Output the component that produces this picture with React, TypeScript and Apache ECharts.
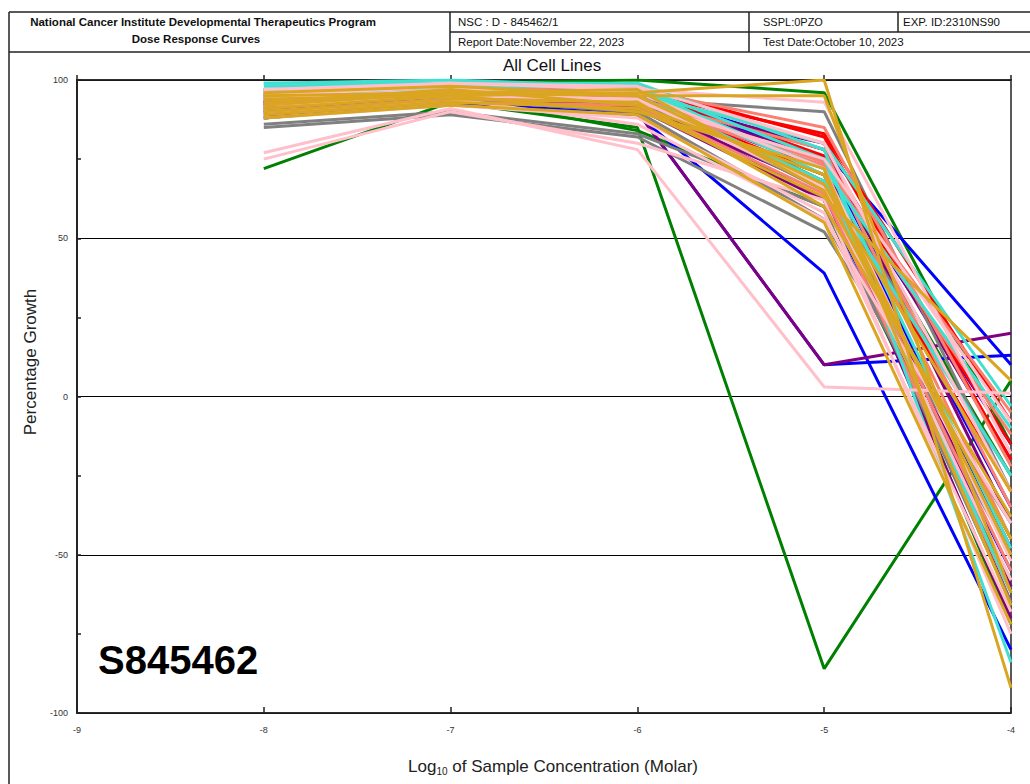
import React, { useEffect, useRef } from "react";
import * as echarts from "echarts";

const FONT = "'Liberation Sans', Arial, sans-serif";

const doses = [-8, -7, -6, -5, -4];
const xTicks = [-9, -8, -7, -6, -5, -4];
const yTicks = [-100, -50, 0, 50, 100];

const GREEN = "#008000";
const BLUE = "#0000FF";
const PURPLE = "#800080";
const GRAY = "#808080";
const RED = "#FF0000";
const SALMON = "#FA8072";
const PINK = "#FFC0CB";
const TURQ = "#40E0D0";
const GOLD = "#DAA520";

const greenLines = [
  [72, 93, 85, -86, 5],
  [96, 99, 100, 96, -15],
  [93, 97, 96, 68, -45],
  [90, 95, 84, 60, -60],
  [95, 98, 97, 75, -25],
  [91, 94, 92, 70, -72],
];
const blueLines = [
  [88, 93, 89, 39, -80],
  [92, 94, 90, 10, 13],
  [97, 98, 98, 74, -15],
  [89, 92, 93, 75, -35],
  [94, 96, 95, 62, -55],
  [90, 95, 96, 78, 10],
  [93, 97, 96, 72, -48],
];
const purpleLines = [
  [91, 96, 90, 10, 20],
  [94, 97, 95, 75, -60],
  [92, 95, 93, 80, -40],
  [90, 94, 92, 66, -70],
  [95, 97, 91, 62, -50],
  [93, 96, 94, 72, -65],
  [88, 93, 95, 78, -20],
];
const grayLines = [
  [85, 89, 82, 52, -40],
  [88, 93, 94, 90, -30],
  [86, 90, 83, 60, -58],
  [92, 95, 93, 70, -25],
  [89, 94, 90, 56, -50],
  [91, 96, 95, 65, -65],
];
const redLines = [
  [93, 97, 96, 83, -8],
  [95, 98, 97, 76, -15],
  [92, 96, 94, 70, -30],
  [96, 98, 98, 82, -20],
];
const salmonLines = [
  [97, 98, 97, 85, -22],
  [94, 96, 94, 78, -45],
  [91, 95, 93, 73, -12],
  [96, 97, 95, 68, -55],
  [93, 96, 96, 80, -35],
  [90, 93, 92, 64, -62],
  [95, 97, 94, 74, -5],
];
const turquoiseLines = [
  [99, 99, 99, 78, -84],
  [98, 99, 97, 72, -10],
  [97, 98, 98, 70, -62],
  [96, 98, 95, 68, -25],
  [99, 100, 98, 75, -48],
  [95, 97, 96, 80, -3],
];
const pinkLines = [
  [77, 91, 78, 3, 1],
  [75, 90, 80, 62, -75],
  [96, 99, 97, 93, -18],
  [88, 92, 88, 58, -68],
  [94, 97, 96, 72, -52],
  [97, 99, 98, 80, -30],
  [92, 95, 94, 66, -58],
  [95, 98, 93, 75, -8],
  [90, 94, 86, 56, -40],
];
const goldLines = [
  [94, 95, 96, 100, -92],
  [92, 96, 95, 95, -62],
  [93, 97, 92, 70, -50],
  [95, 96, 97, 65, -45],
  [90, 94, 93, 60, -38],
  [91, 95, 90, 72, -66],
  [88, 92, 89, 55, -72],
  [96, 98, 95, 67, -30],
  [89, 93, 91, 63, 5],
];

const groups: [string, number[][]][] = [
  [GREEN, greenLines],
  [BLUE, blueLines],
  [PURPLE, purpleLines],
  [GRAY, grayLines],
  [RED, redLines],
  [SALMON, salmonLines],
  [TURQ, turquoiseLines],
  [PINK, pinkLines],
  [GOLD, goldLines],
];

const headerLeft1 = "National Cancer Institute Developmental Therapeutics Program";
const headerLeft2 = "Dose Response Curves";
const headerNsc = "NSC : D - 845462/1";
const headerReport = "Report Date:November 22, 2023";
const headerSspl = "SSPL:0PZO";
const headerExp = "EXP. ID:2310NS90";
const headerTest = "Test Date:October 10, 2023";
const chartTitle = "All Cell Lines";
const yName = "Percentage Growth";
const compound = "S845462";

export default function App() {
  const ref = useRef<HTMLDivElement>(null);
  useEffect(() => {
    if (!ref.current) return;
    const chart = echarts.init(ref.current, undefined, { renderer: "svg" });
    const series: any[] = [];
    groups.forEach(([color, lines]) => {
      lines.forEach((vals) => {
        series.push({
          type: "line",
          data: vals.map((v, i) => [doses[i], v]),
          showSymbol: false,
          symbol: "none",
          silent: true,
          lineStyle: { color, width: 3 },
          itemStyle: { color },
          xAxisIndex: 0,
          yAxisIndex: 0,
        });
      });
    });
    series.push({
      type: "line",
      data: [],
      xAxisIndex: 0,
      yAxisIndex: 1,
      silent: true,
      showSymbol: false,
    });
    const ln = (x1: number, y1: number, x2: number, y2: number) => ({
      type: "line",
      shape: { x1, y1, x2, y2 },
      style: { stroke: "#222", lineWidth: 1.5 },
      silent: true,
    });
    const txt = (x: number, y: number, text: string, opts: any = {}) => ({
      type: "text",
      x,
      y,
      silent: true,
      style: {
        text,
        fill: "#111",
        font: `${opts.bold ? "bold " : ""}${opts.size || 10}px ${FONT}`,
        textAlign: opts.align || "left",
        textVerticalAlign: "middle",
      },
    });
    chart.setOption({
      animation: false,
      backgroundColor: "#fff",
      grid: {
        left: 77,
        top: 80,
        width: 934,
        height: 633,
        show: true,
        borderColor: "#222",
        borderWidth: 1.5,
      },
      xAxis: [
        {
          type: "value",
          min: xTicks[0],
          max: xTicks[xTicks.length - 1],
          interval: 1,
          position: "bottom",
          axisLine: { show: true, onZero: false, lineStyle: { color: "#222", width: 1.5 } },
          axisTick: { show: true, inside: true, length: 6, lineStyle: { color: "#222", width: 1.5 } },
          axisLabel: { fontSize: 9, color: "#333", margin: 12, fontFamily: FONT },
          splitLine: { show: false },
        },
        {
          type: "value",
          min: xTicks[0],
          max: xTicks[xTicks.length - 1],
          interval: 1,
          position: "top",
          axisLine: { show: true, onZero: false, lineStyle: { color: "#222", width: 1.5 } },
          axisTick: { show: true, inside: false, length: 5, lineStyle: { color: "#222", width: 1.5 } },
          axisLabel: { show: false },
          splitLine: { show: false },
        },
      ],
      yAxis: [
        {
          type: "value",
          min: yTicks[0],
          max: yTicks[yTicks.length - 1],
          interval: 50,
          axisLine: { show: true, onZero: false, lineStyle: { color: "#222", width: 1.5 } },
          axisTick: { show: false },
          axisLabel: { fontSize: 9, color: "#333", margin: 9, fontFamily: FONT },
          splitLine: { show: true, lineStyle: { color: "#000", width: 1 } },
        },
        {
          type: "value",
          position: "left",
          offset: 0,
          min: yTicks[0],
          max: yTicks[yTicks.length - 1],
          interval: 25,
          axisLine: { show: true, onZero: false, lineStyle: { color: "#222", width: 1.5 } },
          axisTick: { show: true, inside: true, length: 4, lineStyle: { color: "#222", width: 1.5 } },
          axisLabel: { show: false },
          splitLine: { show: false },
        },
      ],
      series,
      graphic: [
        ln(9, 12, 1030, 12),
        ln(450, 32, 1030, 32),
        ln(9, 52, 1030, 52),
        ln(9, 12, 9, 784),
        ln(450, 12, 450, 52),
        ln(749, 12, 749, 52),
        ln(898, 12, 898, 32),
        txt(203, 22, headerLeft1, { bold: true, align: "center", size: 11.5 }),
        txt(196, 39, headerLeft2, { bold: true, align: "center", size: 11.5 }),
        txt(458, 22, headerNsc, { size: 11.5 }),
        txt(458, 42, headerReport, { size: 11.5 }),
        txt(763, 22, headerSspl, { size: 11 }),
        txt(903, 22, headerExp, { size: 11.5 }),
        txt(763, 42, headerTest, { size: 11.5 }),
        txt(552, 65, chartTitle, { size: 17, align: "center" }),
        {
          type: "text",
          x: 30,
          y: 362,
          rotation: Math.PI / 2,
          silent: true,
          style: {
            text: yName,
            fill: "#222",
            font: `17px ${FONT}`,
            textAlign: "center",
            textVerticalAlign: "middle",
          },
        },
        {
          type: "text",
          x: 98,
          y: 660,
          silent: true,
          style: {
            text: compound,
            fill: "#000",
            font: `bold 40px ${FONT}`,
            textAlign: "left",
            textVerticalAlign: "middle",
          },
        },
        {
          type: "text",
          x: 553,
          y: 766,
          silent: true,
          style: {
            text: "{a|Log}{s|10}{a| of Sample Concentration (Molar)}",
            textAlign: "center",
            textVerticalAlign: "middle",
            rich: {
              a: { fontSize: 17, fontFamily: FONT, fill: "#222", color: "#222", verticalAlign: "middle", lineHeight: 20 },
              s: { fontSize: 10, fontFamily: FONT, fill: "#222", color: "#222", verticalAlign: "bottom", lineHeight: 14, padding: [8, 0, 0, 0] },
            },
          },
        },
      ],
    });
    return () => chart.dispose();
  }, []);
  return (
    <div
      ref={ref}
      style={{ position: "fixed", left: 0, top: 0, width: 1030, height: 784, background: "#fff" }}
    />
  );
}
